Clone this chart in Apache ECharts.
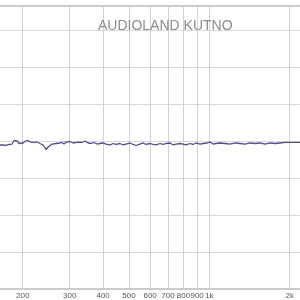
<!DOCTYPE html>
<html>
<head>
<meta charset="utf-8">
<script src="https://cdn.jsdelivr.net/npm/echarts@6/dist/echarts.min.js"></script>
<style>html,body{margin:0;padding:0;background:#fff}#c{width:300px;height:300px}</style>
</head>
<body>
<div id="c"></div>
<script>
// Frequency (Hz)
var freqs = [164.4,168.7,173.2,177.7,182.4,185.6,187.2,190.4,193.8,197.1,200.5,204.0,207.6,211.2,214.8,218.6,222.4,226.3,230.2,234.2,238.4,242.5,244.6,248.9,253.2,257.6,262.0,266.6,271.2,275.9,280.7,285.6,290.6,295.6,300.8,308.6,316.8,325.1,333.6,342.3,351.3,360.5,370.0,379.7,389.6,399.8,410.3,424.6,435.8,447.2,462.9,475.0,487.5,504.6,517.8,531.3,550.0,564.4,579.2,599.5,615.3,631.4,653.6,670.7,688.2,712.4,731.1,750.2,776.6,797.0,817.9,846.6,868.8,891.5,922.8,947.0,980.2,1005.8,1032.2,1059.3,1096.5,1144.8,1195.2,1247.8,1302.7,1360.0,1420.0,1482.5,1547.6,1615.8,1687.0,1761.3,1838.9,1919.9,2004.5,2092.7,2185.0];
// Level (dB)
var levels = [64.46,64.46,64.42,64.53,64.59,65.07,65.20,65.00,64.66,64.53,64.73,64.93,65.07,65.00,64.86,64.80,64.66,64.86,64.80,64.59,64.46,64.19,63.85,64.19,64.32,64.59,64.32,64.66,64.80,64.73,64.80,64.59,64.86,64.59,64.93,64.73,64.80,64.86,64.80,65.00,64.73,64.66,64.80,64.59,64.66,64.73,64.59,64.46,64.66,64.53,64.66,64.46,64.59,64.73,64.53,64.39,64.59,64.73,64.53,64.66,64.53,64.46,64.66,64.53,64.66,64.73,64.46,64.59,64.66,64.59,64.46,64.66,64.53,64.73,64.59,64.66,64.73,64.86,64.59,64.66,64.73,64.66,64.59,64.73,64.66,64.59,64.73,64.66,64.73,64.59,64.73,64.66,64.73,64.80,64.80,64.80,64.80];
// Vertical grid lines and their labels
var gridFreqs = [200,300,400,500,600,700,800,900,1000,2000];
var gridLabels = ['200','300','400','500','600','700','800','900','1k','2k'];
var titleText = 'AUDIOLAND KUTNO';

var chart = echarts.init(document.getElementById('c'), null, {renderer:'canvas'});
var lineData = freqs.map(function(f,i){return [f, levels[i]];});
var vLines = gridFreqs.map(function(f){return {xAxis:f};});
chart.setOption({
  animation:false,
  backgroundColor:'#fff',
  title:{text:titleText,left:93,top:14,textStyle:{color:'#8c8c8c',fontSize:14,fontWeight:'normal',fontFamily:'Liberation Sans'}},
  grid:{left:0,right:0,top:6,bottom:11,outerBoundsMode:'none'},
  xAxis:{type:'log',min:164.4,max:2185,axisLine:{show:false},axisTick:{show:false},
    axisLabel:{show:true,customValues:gridFreqs,margin:3,color:'#555',fontSize:8,fontFamily:'Liberation Sans',
      formatter:function(v){var i=gridFreqs.indexOf(Math.round(v));return i>=0?gridLabels[i]:'';}},
    splitLine:{show:false}},
  yAxis:{type:'value',min:45,max:83.24,interval:5,axisLine:{show:false},axisTick:{show:false},axisLabel:{show:false},splitLine:{show:true,lineStyle:{color:'#dadada',width:1}}},
  series:[
    {type:'line',data:lineData,showSymbol:false,smooth:false,lineStyle:{color:'#4e4e8e',width:1.3},z:5,
     markLine:{silent:true,symbol:['none','none'],animation:false,
       lineStyle:{color:'#d2d2d2',width:1,type:'solid'},
       label:{show:false},
       data:vLines}},
    {type:'line',data:[],markLine:{silent:true,symbol:['none','none'],animation:false,
       label:{show:false},
       lineStyle:{color:'#cbcbcb',width:2,type:'solid'},data:[{yAxis:83.24},{yAxis:45}]}}
  ]
});
</script>
</body>
</html>
